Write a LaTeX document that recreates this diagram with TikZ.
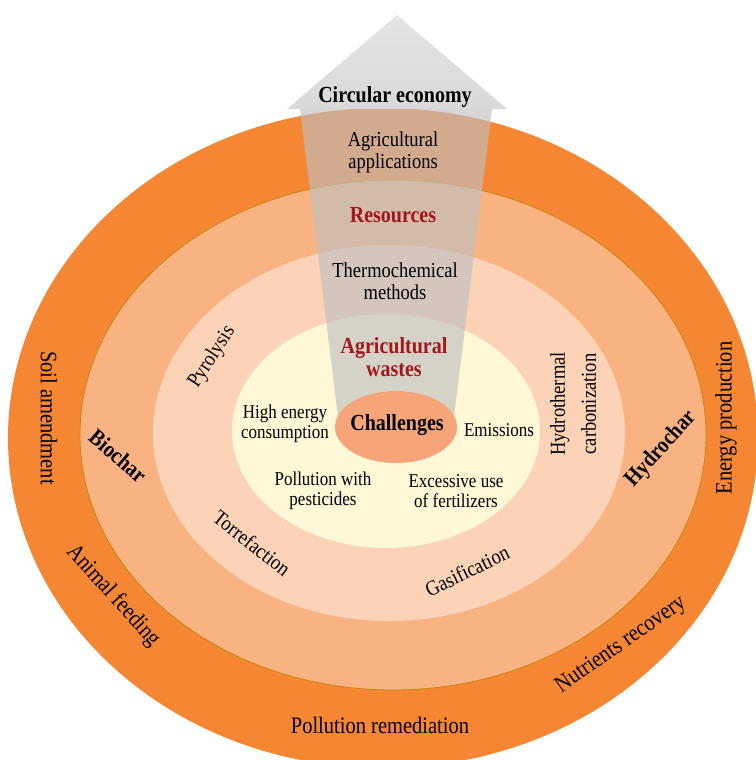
\documentclass[tikz,border=0pt]{standalone}
\usepackage{fontspec}
\setmainfont{Liberation Serif}
\definecolor{ringA}{HTML}{F58634}
\definecolor{ringB}{HTML}{F9B282}
\definecolor{ringC}{HTML}{FCD3B6}
\definecolor{ringD}{HTML}{FEF8D6}
\definecolor{chal}{HTML}{F6A57A}
\definecolor{edgeline}{HTML}{C8860A}
\definecolor{shaft}{HTML}{C0C0C0}
\definecolor{headgray}{HTML}{D9D9D9}
\definecolor{headlight}{HTML}{E4E4E4}
\definecolor{darkred}{HTML}{A3161B}
\tikzset{
  txt/.style={yscale=1.15, font=\fontsize{18.5}{19}\selectfont, align=center, inner sep=0pt, text=black},
  txtbig/.style={yscale=1.15, font=\fontsize{20.5}{20}\selectfont, align=center, inner sep=0pt, text=black},
  hdr/.style={yscale=1.15, font=\bfseries\fontsize{20}{20}\selectfont, align=center, inner sep=0pt, text=black},
  redhdr/.style={hdr, text=darkred},
  small/.style={font=\fontsize{17}{17.5}\selectfont},
}
\begin{document}
\begin{tikzpicture}[x=1pt,y=-1pt]
\useasboundingbox (0,0) rectangle (755,760);
% rings
\fill[ringA] (383,438) ellipse [x radius=375pt, y radius=330pt];
\fill[ringB] (393,435) ellipse [x radius=313pt, y radius=255pt];
\draw[edgeline, line width=0.8pt] (393,435) ellipse [x radius=313pt, y radius=255pt];
\fill[ringC] (389,433) ellipse [x radius=236pt, y radius=188pt];
\fill[ringD] (386,431) ellipse [x radius=154pt, y radius=117pt];
% arrow shaft
\fill[shaft, opacity=0.65] (300,109) -- (492,109) -- (453,425) -- (339,425) -- cycle;
% challenges
\fill[chal] (396,427) ellipse [x radius=61pt, y radius=36pt];
% arrow head
\shade[top color=headlight, bottom color=headgray] (287,109) -- (507,109) -- (397,15) -- cycle;
% texts
\node[hdr] (ce) at (395,97) {Circular economy};
\node[txt] (aa) at (393,152) {Agricultural\\applications};
\node[redhdr] (res) at (393,215) {Resources};
\node[txt] (tm) at (395,281) {Thermochemical\\methods};
\node[redhdr] (aw) at (394,357) {Agricultural\\wastes};
\node[hdr] (ch) at (397,425) {Challenges};
\node[txt, small] (he) at (285,424) {High energy\\consumption};
\node[txt, small] (em) at (499,430) {Emissions};
\node[txt, small] (pp) at (323,491) {Pollution with\\pesticides};
\node[txt, small] (ef) at (456,491) {Excessive use\\of fertilizers};
\node[rotate=57, txt] (py) at (212,357) {Pyrolysis};
\node[rotate=-38, txt] (to) at (252,543) {Torrefaction};
\node[rotate=26, txt] (ga) at (467,571) {Gasification};
\node[rotate=90, txt, font=\fontsize{18.5}{27}\selectfont] (hc) at (573,404) {Hydrothermal\\carbonization};
\node[rotate=-41, hdr] (bc) at (118,456) {Biochar};
\node[rotate=48, hdr] (hy) at (661,449) {Hydrochar};
\node[rotate=-90, txtbig] (sa) at (49,418) {Soil amendment};
\node[rotate=-48, txtbig] (af) at (113,596) {Animal feeding};
\node[txtbig] (pr) at (380,725) {Pollution remediation};
\node[rotate=35, txtbig] (nr) at (621,645) {Nutrients recovery};
\node[rotate=90, txtbig] (ep) at (726,418) {Energy production};
\end{tikzpicture}
\end{document}
